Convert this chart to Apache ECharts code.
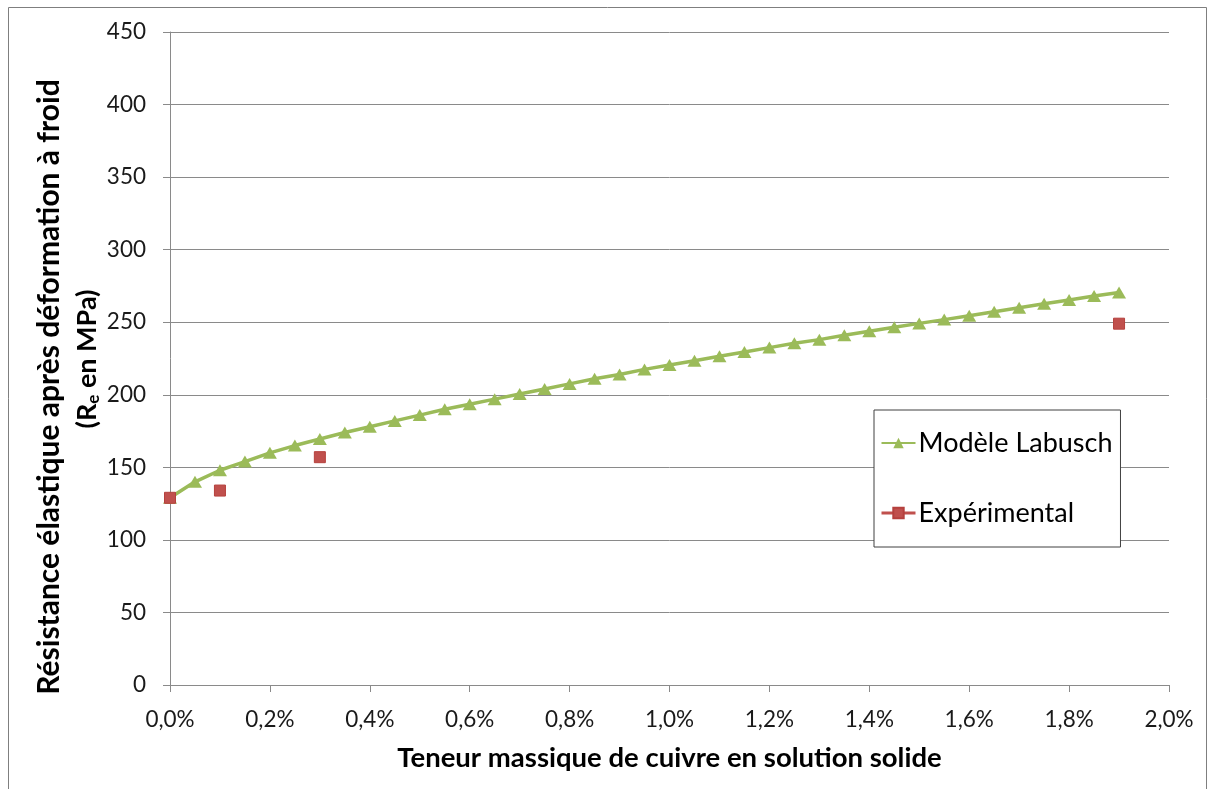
<!DOCTYPE html>
<html>
<head>
<meta charset="utf-8">
<title>Résistance élastique – modèle de Labusch</title>
<script src="https://cdn.jsdelivr.net/npm/echarts@6/dist/echarts.min.js"></script>
<style>
  html, body { margin: 0; padding: 0; background: #ffffff; }
  #chart { width: 1212px; height: 789px; }
</style>
</head>
<body>
<div id="chart"></div>
<script>
// Teneur en cuivre (%) des points du modèle
const modelX = [0, 0.05, 0.1, 0.15, 0.2, 0.25, 0.3, 0.35, 0.4, 0.45, 0.5, 0.55, 0.6, 0.65,
  0.7, 0.75, 0.8, 0.85, 0.9, 0.95, 1.0, 1.05, 1.1, 1.15, 1.2, 1.25, 1.3, 1.35, 1.4, 1.45,
  1.5, 1.55, 1.6, 1.65, 1.7, 1.75, 1.8, 1.85, 1.9];
// Re calculé par le modèle de Labusch (MPa)
const modelY = [129, 140, 148, 154, 160, 165, 169.5, 174, 178, 182, 186, 190, 193.5, 197,
  200.5, 204, 207.5, 211, 214, 217.5, 220.5, 223.5, 226.5, 229.5, 232.5, 235.5, 238, 241,
  243.8, 246.5, 249.2, 251.8, 254.4, 257.2, 260, 262.7, 265.3, 268, 270.5];
// Mesures expérimentales
const expX = [0, 0.1, 0.3, 1.9];
const expY = [129, 134, 157, 249];
// Graduations
const xTicks = [0, 0.2, 0.4, 0.6, 0.8, 1.0, 1.2, 1.4, 1.6, 1.8, 2.0];
const yTicks = [0, 50, 100, 150, 200, 250, 300, 350, 400, 450];

const seriesNames = ['Modèle Labusch', 'Expérimental'];
const GREEN = '#9BBB59';
const RED = '#C0504D';
const FONT = 'Lato';
const GRID = '#8a8a8a';

const zip = (xs, ys) => xs.map((x, i) => [x, ys[i]]);

const chart = echarts.init(document.getElementById('chart'), null, { renderer: 'canvas' });

chart.setOption({
  animation: false,
  backgroundColor: '#ffffff',
  textStyle: { fontFamily: FONT },
  grid: { left: 170, right: 43, top: 32, bottom: 104 },
  xAxis: {
    type: 'value',
    min: xTicks[0],
    max: xTicks[xTicks.length - 1],
    interval: xTicks[1] - xTicks[0],
    name: 'Teneur massique de cuivre en solution solide',
    nameLocation: 'middle',
    nameGap: 59,
    nameTextStyle: { fontFamily: FONT, fontWeight: 'bold', fontSize: 27.5, color: '#000' },
    axisLine: { show: true, lineStyle: { color: GRID, width: 1 } },
    axisTick: { show: true, length: 7, lineStyle: { color: GRID } },
    axisLabel: {
      margin: 23,
      fontSize: 22.5,
      color: '#1a1a1a',
      fontFamily: FONT,
      formatter: v => v.toFixed(1).replace('.', ',') + '%'
    },
    splitLine: { show: false }
  },
  yAxis: {
    type: 'value',
    min: yTicks[0],
    max: yTicks[yTicks.length - 1],
    interval: yTicks[1] - yTicks[0],
    axisLine: { show: true, lineStyle: { color: GRID, width: 1 } },
    axisTick: { show: true, length: 7, lineStyle: { color: GRID } },
    axisLabel: { margin: 24, fontSize: 22.5, color: '#1a1a1a', fontFamily: FONT },
    splitLine: { show: true, lineStyle: { color: GRID, width: 1 } }
  },
  legend: {
    orient: 'vertical',
    left: 874,
    top: 410,
    padding: [18, 8, 19, 6],
    itemGap: 40,
    itemWidth: 34,
    itemHeight: 13,
    borderColor: '#404040',
    borderWidth: 1,
    backgroundColor: '#ffffff',
    textStyle: { fontFamily: FONT, fontSize: 27, color: '#000', lineHeight: 30, padding: [0, 0, 0, -2] },
    data: [
      { name: seriesNames[0] },
      { name: seriesNames[1], lineStyle: { color: RED, width: 3, opacity: 1 } }
    ]
  },
  series: [
    {
      name: seriesNames[0],
      type: 'line',
      data: zip(modelX, modelY),
      symbol: 'triangle',
      symbolSize: [14, 12],
      showAllSymbol: true,
      lineStyle: { color: GREEN, width: 3.5 },
      itemStyle: { color: GREEN },
      z: 3
    },
    {
      name: seriesNames[1],
      type: 'line',
      data: zip(expX, expY),
      symbol: 'rect',
      symbolSize: 11,
      lineStyle: { color: RED, width: 0, opacity: 0 },
      itemStyle: { color: RED, borderColor: '#b5403d', borderWidth: 1 },
      z: 4
    }
  ],
  graphic: [
    {
      type: 'rect',
      shape: { x: 8.5, y: 7.5, width: 1198, height: 800 },
      style: { fill: 'none', stroke: '#7f7f7f', lineWidth: 1 },
      silent: true,
      z: -1
    },
    {
      type: 'text',
      x: 49,
      y: 387,
      rotation: Math.PI / 2,
      style: {
        text: 'Résistance élastique après déformation à froid',
        fontFamily: FONT,
        fontWeight: 'bold',
        fontSize: 30,
        fill: '#000',
        align: 'center',
        verticalAlign: 'middle'
      }
    },
    {
      type: 'text',
      x: 87,
      y: 359,
      rotation: Math.PI / 2,
      style: {
        text: '{m|(R}{s|e}{m| en MPa)}',
        fontFamily: FONT,
        fontWeight: 'bold',
        fontSize: 27,
        fill: '#000',
        align: 'center',
        verticalAlign: 'middle',
        rich: {
          m: { fontFamily: FONT, fontWeight: 'bold', fontSize: 27, fill: '#000', lineHeight: 30 },
          s: { fontFamily: FONT, fontWeight: 'bold', fontSize: 17, fill: '#000', lineHeight: 30, verticalAlign: 'bottom', padding: [12, 0, 0, 0] }
        }
      }
    }
  ]
});
</script>
</body>
</html>
